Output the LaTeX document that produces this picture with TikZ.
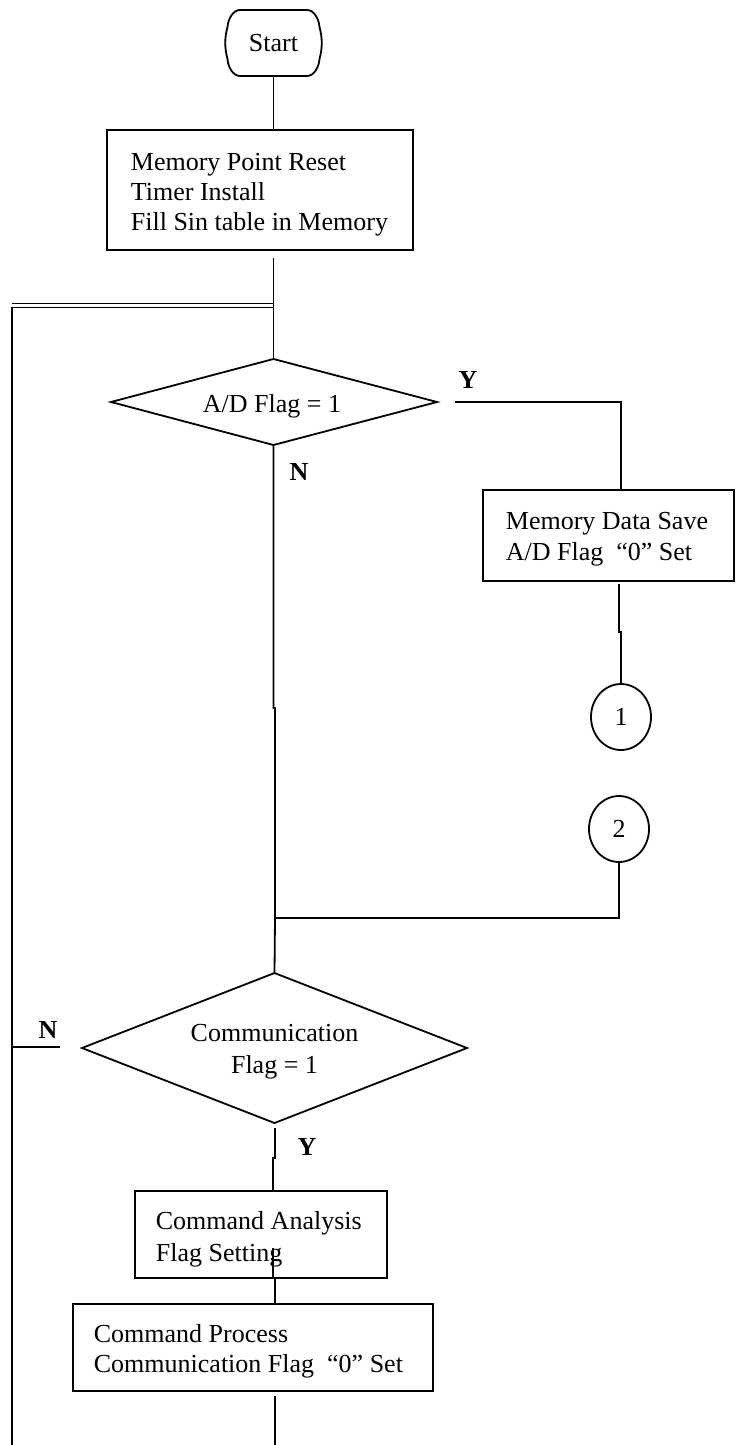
\documentclass[tikz,border=0pt]{standalone}
\usepackage{fontspec}
\setmainfont{Liberation Serif}
\usetikzlibrary{shapes.geometric}
\begin{document}
\begin{tikzpicture}[x=1pt,y=-1pt,
  line width=1.8pt,
  every node/.style={font=\fontsize{26}{30}\selectfont},
  procbox/.style={draw, rectangle, inner sep=0pt},
  txt/.style={inner sep=0pt, anchor=base west},
  ctxt/.style={inner sep=0pt, anchor=base},
  conn/.style={draw, ellipse, inner sep=0pt, minimum width=60pt, minimum height=66pt},
  lbl/.style={font=\fontsize{26}{30}\selectfont\bfseries, inner sep=0pt}]
\useasboundingbox (0,0) rectangle (740,1445);
\fill[white] (0,0) rectangle (740,1445);

% Start terminal
\node[ctxt] (start) at (273.5,52) {Start};
\draw (240,10) -- (307,10)
  .. controls (314,10) and (319,19) .. (319.5,27)
  .. controls (322.5,38) and (322.5,48) .. (319.5,59)
  .. controls (319,67) and (314,76) .. (307,76)
  -- (240,76)
  .. controls (233,76) and (228,67) .. (227.5,59)
  .. controls (224.5,48) and (224.5,38) .. (227.5,27)
  .. controls (228,19) and (233,10) .. (240,10) -- cycle;
\coordinate (startS) at (273.5,76);

% box 1
\node[procbox, minimum width=306pt, minimum height=120pt] (box1) at (260,190) {};
\node[txt] (t1a) at (130,170) {Memory Point Reset};
\node[txt] (t1b) at (130,200) {Timer Install};
\node[txt] (t1c) at (130,230) {Fill Sin table in Memory};

% decision 1
\coordinate (d1t) at (273.5,359);
\coordinate (d1r) at (437,402);
\coordinate (d1b) at (273.5,445);
\coordinate (d1l) at (111,402);
\draw (d1t) -- (d1r) -- (d1b) -- (d1l) -- cycle;
\node[ctxt] (d1) at (272,412) {A/D Flag = 1};

% box 2
\node[procbox, minimum width=251pt, minimum height=91pt] (box2) at (608.5,535.5) {};
\node[txt] (t2a) at (505,529) {Memory Data Save};
\node[txt] (t2b) at (505,560) {A/D Flag \ ``0'' Set};

% connectors circles
\node[conn] (c1) at (621,717) {1};
\node[conn] (c2) at (619,829) {2};

% decision 2
\coordinate (d2t) at (274.5,973);
\coordinate (d2r) at (467,1048);
\coordinate (d2b) at (274.5,1123);
\coordinate (d2l) at (82,1048);
\draw (d2t) -- (d2r) -- (d2b) -- (d2l) -- cycle;
\node[ctxt] (d2a1) at (274.5,1041) {Communication};
\node[ctxt] (d2a2) at (274.5,1073) {Flag = 1};

% box 3
\node[procbox, minimum width=252pt, minimum height=87pt] (box3) at (261,1234.5) {};
\node[txt] (t3a) at (155,1229) {Command Analysis};
\node[txt] (t3b) at (155,1261) {Flag Setting};

% box 4
\node[procbox, minimum width=360pt, minimum height=87pt] (box4) at (253,1347.5) {};
\node[txt] (t4a) at (93,1342) {Command Process};
\node[txt] (t4b) at (93,1372) {Communication Flag \ ``0'' Set};

% labels
\node[lbl] (y1) at (468,380) {Y};
\node[lbl] (n1) at (299,472) {N};
\node[lbl] (n2) at (48,1030) {N};
\node[lbl] (y2) at (307,1147) {Y};

% coordinates
\coordinate (a1) at (273.5,258);
\coordinate (loopR1) at (273.5,303.5);
\coordinate (loopL1) at (12,303.5);
\coordinate (loopR2) at (273.5,307.5);
\coordinate (loopL) at (12,307.5);
\coordinate (bottomL) at (12,1445);
\coordinate (nL) at (12,1047);
\coordinate (nR) at (60,1047);
\coordinate (yA) at (455,402);
\coordinate (b2a) at (619,584);
\coordinate (b2b) at (619,632);
\coordinate (b2c) at (621,632);
\coordinate (m1) at (273.5,708);
\coordinate (m2) at (275,708);
\coordinate (join) at (275,918);
\coordinate (c2a) at (619,918);
\coordinate (d2a) at (275,1128);
\coordinate (d2b2) at (275,1158);
\coordinate (d2c) at (273,1158);
\coordinate (b3a) at (273,1248);
\coordinate (b3b) at (273,1278);
\coordinate (b3c) at (275,1278);
\coordinate (b4a) at (275,1396);
\coordinate (b4b) at (275,1445);

% connectors
\draw (startS) -- (startS |- box1.north);
\draw (a1) -- (d1t);
\draw (loopR1) -- (loopL1);
\draw (loopR2) -- (loopL) -- (bottomL);
\draw (nL) -- (nR);
\draw (yA) -| (c1 |- box2.north);
\draw (b2a) -- (b2b) -- (b2c) -- (c1.north);
\draw (d1b) -- (m1) -- (m2) -- (join) -- (d2t);
\draw (c2.south) -- (c2a) -- (join);
\draw (d2a) -- (d2b2) -- (d2c) -- (d2c |- box3.north);
\draw (b3a) -- (b3b) -- (b3c) -- (b3c |- box4.north);
\draw (b4a) -- (b4b);
\end{tikzpicture}
\end{document}
